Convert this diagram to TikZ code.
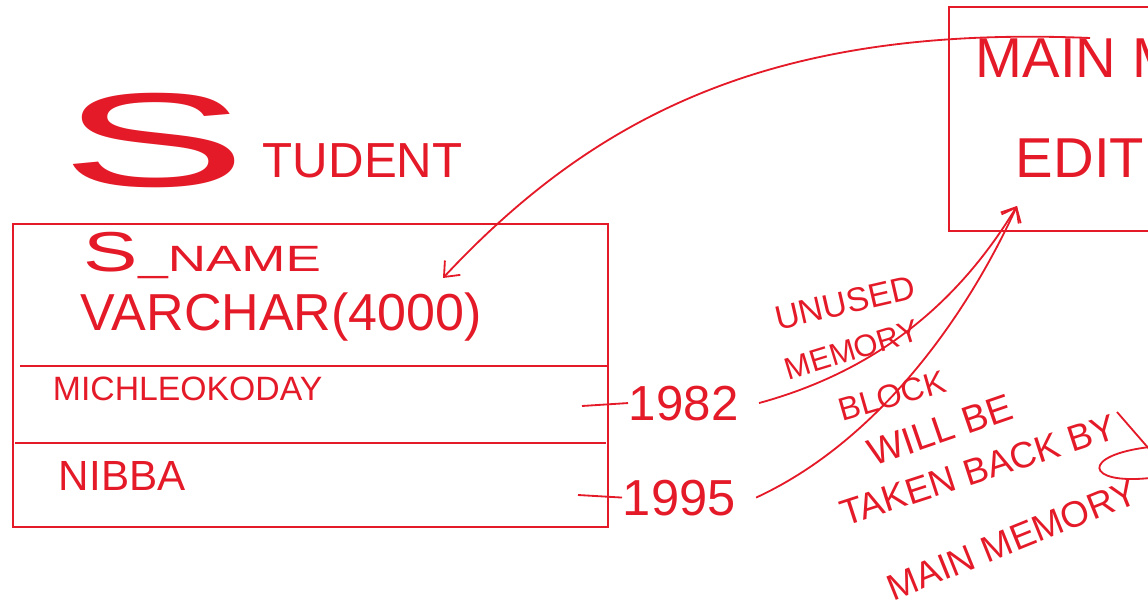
\documentclass[tikz,border=0pt]{standalone}
\usepackage{fontspec}
\setmainfont{Liberation Sans}
\usepackage{tikz}
\usetikzlibrary{arrows.meta}
\definecolor{ink}{RGB}{228,26,40}
\newcommand{\fs}[1]{\fontsize{#1}{#1}\selectfont}

\begin{document}
\begin{tikzpicture}[x=0.025cm,y=-0.025cm,ink,line width=1.3pt,
		>={Straight Barb[length=9pt,width=15pt]},
		hand/.style={ink,inner sep=0pt,anchor=base west},
		note/.style={ink,inner sep=0pt}]
			\path[use as bounding box,clip] (0,0) rectangle (1148,609);
			\node[hand] (bigS) at (60,187) {\fs{95}\scalebox{2.1}[1]{S}};
			\node[hand] (tudent) at (262,178) {\fs{35}TUDENT};
			\draw (13,224) rectangle (608,527);
			\draw (20,366) -- (608,366);
			\draw (15,443) -- (606,443);
			\node[hand] (sname) at (83,272) {\scalebox{1.45}[1]{\fs{40}S\fs{26}\_NAME}};
			\node[hand] (vchar) at (80,330) {\fs{37}VARCHAR(4000)};
			\coordinate (zeros) at (443,278);
			\node[hand] (michle) at (52,400) {\fs{24}MICHLEOKODAY};
			\node[hand] (nibba) at (58,490) {\fs{30}NIBBA};
			\node[hand] (y82) at (628,420) {\fs{35}1982};
			\node[hand] (y95) at (622,515) {\fs{36}1995};
			\coordinate (tick82) at (582,406);
			\coordinate (tick95) at (578,495);
			\draw (tick82) -- (y82.west);
			\draw (tick95) -- (y95.west);
			\draw (949,7) rectangle (1170,231);
			\node[hand] (mainm) at (975,78) {\fs{40}MAIN M};
			\node[hand] (edit) at (1015,178) {\fs{40}EDIT};
			\coordinate (memstart) at (1090,38);
			\coordinate (boxtip) at (1017,206);
			\draw[->] (memstart) .. controls (780,25) and (600,110) .. (zeros);
			\draw[->] ([xshift=14pt]y82.east) .. controls (880,370) and (960,300) .. (boxtip);
			\draw[->] ([xshift=14pt]y95.east) .. controls (870,445) and (960,330) .. (boxtip);
			\node[note,rotate=13] (unused) at (845,303) {\fs{24}UNUSED};
			\node[note,rotate=17] (memory) at (852,350) {\fs{22}MEMORY};
			\node[note,rotate=16] (block) at (892,396) {\fs{23}BLOCK};
			\node[note,rotate=19] (willbe) at (940,430) {\fs{27}WILL BE};
			\node[note,rotate=18] (taken) at (978,470) {\fs{26}TAKEN BACK BY};
			\node[note,rotate=22] (mainmem) at (1012,540) {\fs{26}MAIN MEMORY};
			\draw (1117,412) -- (1150,450);
			\draw (1150,447) .. controls (1080,455) and (1085,485) .. (1150,478);
		\end{tikzpicture}
\end{document}
